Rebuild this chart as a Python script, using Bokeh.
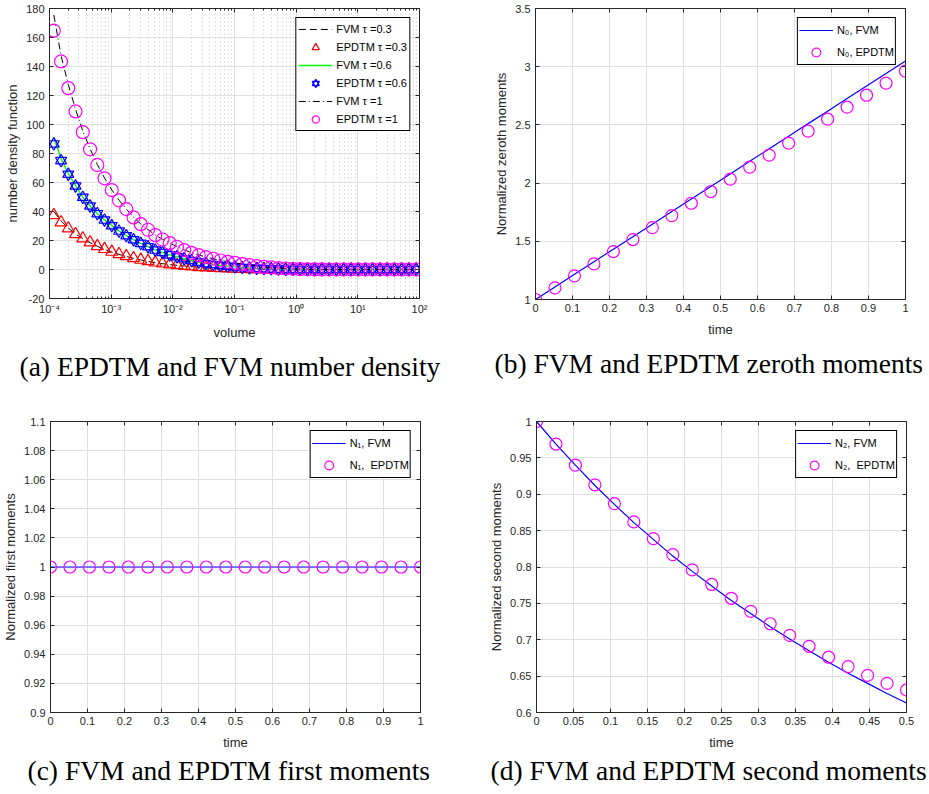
from bokeh.plotting import figure
from bokeh.models import (FixedTicker, CustomJSTickFormatter, Legend, LegendItem,
                          LinearAxis, Title, Range1d)
from bokeh.layouts import column, row
from bokeh.embed import file_html
from bokeh.resources import INLINE

# ---------------- data ----------------
volume = [1.175e-4, 1.540e-4, 2.018e-4, 2.645e-4, 3.467e-4, 4.544e-4, 5.957e-4, 7.80e-4, 1.023e-3, 1.341e-3,
          1.758e-3, 2.304e-3, 3.020e-3, 3.958e-3, 5.188e-3, 6.80e-3, 8.913e-3, 1.168e-2, 1.531e-2, 2.007e-2,
          2.630e-2, 3.447e-2, 4.519e-2, 5.92e-2, 7.76e-2, 0.1017, 0.1334, 0.1748, 0.2291, 0.3003,
          0.3936, 0.5158, 0.6761, 0.886, 1.161, 1.522, 1.995, 2.615, 3.428, 4.49,
          5.888, 7.72, 10.12, 13.26, 17.38, 22.78, 29.85, 39.13, 51.29, 67.23, 88.1]

fvm_t03 = [40.0, 33.5, 28.6, 24.5, 21.3, 18.5, 16.0, 13.9, 12.0, 10.4,
           9.0, 7.7, 6.6, 5.6, 4.7, 4.0, 3.4, 2.9, 2.4, 2.0,
           1.6, 1.3, 1.1, 0.9, 0.7, 0.5, 0.35, 0.25, 0.15, 0.1,
           0.05, 0.03, 0.01, 0, 0, 0, 0, 0, 0, 0,
           0, 0, 0, 0, 0, 0, 0, 0, 0, 0, 0]
epdtm_t03 = [37.5, 32.5, 28.3, 24.4, 21.4, 18.7, 16.1, 14.1, 12.2, 10.6,
             9.2, 7.8, 6.7, 5.8, 4.8, 4.1, 3.5, 3.0, 2.5, 2.1,
             1.6, 1.4, 1.15, 0.9, 0.7, 0.5, 0.35, 0.25, 0.15, 0.1,
             0.05, 0.03, 0.01, 0, 0, 0, 0, 0, 0, 0,
             0, 0, 0, 0, 0, 0, 0, 0, 0, 0, 0]
fvm_t06 = [91.0, 76.5, 66.2, 57.8, 49.9, 43.9, 38.6, 34.2, 30.3, 26.6,
           23.4, 20.6, 18.0, 15.7, 13.5, 11.7, 10.1, 8.8, 7.4, 6.2,
           5.1, 4.2, 3.5, 2.8, 2.3, 1.8, 1.4, 1.1, 0.8, 0.6,
           0.4, 0.25, 0.15, 0.08, 0.04, 0.02, 0.01, 0, 0, 0,
           0, 0, 0, 0, 0, 0, 0, 0, 0, 0, 0]
epdtm_t06 = [86.6, 75.1, 65.7, 57.6, 49.8, 43.8, 38.5, 34.1, 30.2, 26.5,
             23.3, 20.5, 18.0, 15.7, 13.4, 11.7, 10.1, 8.8, 7.4, 6.2,
             5.1, 4.1, 3.5, 2.8, 2.3, 1.8, 1.4, 1.1, 0.8, 0.6,
             0.4, 0.25, 0.15, 0.08, 0.04, 0.02, 0.01, 0, 0, 0,
             0, 0, 0, 0, 0, 0, 0, 0, 0, 0, 0]
fvm_t1 = [175.5, 147.5, 127.5, 110.5, 95.5, 83.3, 72.4, 63.1, 54.9, 47.8,
          41.8, 36.0, 31.4, 27.5, 23.8, 20.8, 18.3, 15.8, 13.5, 11.6,
          10.0, 8.6, 7.4, 6.3, 5.4, 4.6, 3.8, 3.0, 2.4, 1.8,
          1.4, 1.0, 0.7, 0.45, 0.28, 0.15, 0.07, 0.03, 0.01, 0,
          0, 0, 0, 0, 0, 0, 0, 0, 0, 0, 0]
epdtm_t1 = [164.7, 143.5, 125.1, 109.0, 94.7, 82.9, 72.1, 62.9, 54.8, 47.7,
            41.7, 35.9, 31.3, 27.4, 23.7, 20.7, 18.2, 15.7, 13.4, 11.5,
            9.9, 8.5, 7.4, 6.2, 5.3, 4.6, 3.7, 3.0, 2.3, 1.8,
            1.4, 0.9, 0.7, 0.45, 0.27, 0.14, 0.06, 0.03, 0.01, 0,
            0, 0, 0, 0, 0, 0, 0, 0, 0, 0, 0]

time_1 = [0.0, 0.0526, 0.1053, 0.1579, 0.2105, 0.2632, 0.3158, 0.3684, 0.4211, 0.4737,
          0.5263, 0.5789, 0.6316, 0.6842, 0.7368, 0.7895, 0.8421, 0.8947, 0.9474, 1.0]
n0_fvm = [1.0, 1.108, 1.216, 1.324, 1.432, 1.539, 1.647, 1.755, 1.863, 1.971,
          2.079, 2.187, 2.295, 2.403, 2.511, 2.618, 2.726, 2.834, 2.942, 3.05]
n0_epdtm = [1.0, 1.1, 1.203, 1.306, 1.412, 1.515, 1.618, 1.721, 1.827, 1.928,
            2.034, 2.137, 2.240, 2.343, 2.446, 2.549, 2.652, 2.755, 2.859, 2.962]
n1_fvm = [1.0, 1.0, 1.0, 1.0, 1.0, 1.0, 1.0, 1.0, 1.0, 1.0,
          1.0, 1.0, 1.0, 1.0, 1.0, 1.0, 1.0, 1.0, 1.0, 1.0]
n1_epdtm = [1.0, 1.0, 1.0, 1.0, 1.0, 1.0, 1.0, 1.0, 1.0, 1.0,
            1.0, 1.0, 1.0, 1.0, 1.0, 1.0, 1.0, 1.0, 1.0, 1.0]
time_2 = [0.0, 0.0263, 0.0526, 0.0789, 0.1053, 0.1316, 0.1579, 0.1842, 0.2105, 0.2368,
          0.2632, 0.2895, 0.3158, 0.3421, 0.3684, 0.3947, 0.4211, 0.4474, 0.4737, 0.5]
n2_fvm = [1.0, 0.969, 0.940, 0.912, 0.886, 0.861, 0.838, 0.815, 0.794, 0.774,
          0.754, 0.736, 0.718, 0.701, 0.685, 0.669, 0.654, 0.640, 0.626, 0.613]
n2_epdtm = [1.0, 0.969, 0.940, 0.913, 0.887, 0.862, 0.839, 0.817, 0.796, 0.776,
            0.757, 0.739, 0.722, 0.706, 0.691, 0.676, 0.663, 0.651, 0.640, 0.631]

# ticks
vol_ticks = [1e-4, 1e-3, 1e-2, 1e-1, 1e0, 1e1, 1e2]
nd_ticks = [-20, 0, 20, 40, 60, 80, 100, 120, 140, 160, 180]
t1_ticks = [0, 0.1, 0.2, 0.3, 0.4, 0.5, 0.6, 0.7, 0.8, 0.9, 1.0]
n0_ticks = [1, 1.5, 2, 2.5, 3, 3.5]
n1_ticks = [0.9, 0.92, 0.94, 0.96, 0.98, 1.0, 1.02, 1.04, 1.06, 1.08, 1.1]
t2_ticks = [0, 0.05, 0.1, 0.15, 0.2, 0.25, 0.3, 0.35, 0.4, 0.45, 0.5]
n2_ticks = [0.6, 0.65, 0.7, 0.75, 0.8, 0.85, 0.9, 0.95, 1.0]

captions = ["(a) EPDTM and FVM number density", "(b) FVM and EPDTM zeroth moments",
            "(c) FVM and EPDTM first moments", "(d) FVM and EPDTM second moments"]

# ---------------- styling ----------------
FONT = "Liberation Sans"
CAPFONT = "Liberation Serif"
AXC = "#262626"
GRIDC = "#e0e0e0"

num_fmt = CustomJSTickFormatter(code="return String(Number(tick.toFixed(6)));")
log_fmt = CustomJSTickFormatter(code="""
const e = Math.round(Math.log10(tick));
const sup = {'-':'\u207b','0':'\u2070','1':'\u00b9','2':'\u00b2','3':'\u00b3','4':'\u2074',
             '5':'\u2075','6':'\u2076','7':'\u2077','8':'\u2078','9':'\u2079'};
return '10' + String(e).split('').map(c => sup[c]).join('');
""")
blank_fmt = CustomJSTickFormatter(code="return '';")


def make_fig(xr, yr, xlog, bl, br, bt, bb, fh):
    p = figure(x_axis_type="log" if xlog else "linear",
               x_range=Range1d(*xr), y_range=Range1d(*yr),
               frame_width=370, frame_height=fh,
               min_border_left=bl, min_border_right=br, min_border_top=bt, min_border_bottom=bb,
               output_backend="svg", toolbar_location=None)
    p.outline_line_color = AXC
    p.outline_line_width = 1
    p.background_fill_color = "white"
    p.border_fill_color = "white"
    return p


def style(p, xt, yt, xf, xlabel, ylabel, caption, cap_standoff, cap_offset, xminor=None):
    xa = p.xaxis[0]
    ya = p.yaxis[0]
    xa.ticker = FixedTicker(ticks=xt, minor_ticks=xminor or [])
    ya.ticker = FixedTicker(ticks=yt)
    xa.formatter = xf
    ya.formatter = num_fmt
    xa.axis_label = xlabel
    ya.axis_label = ylabel
    for ax in (xa, ya):
        ax.axis_line_color = AXC
        ax.major_tick_line_color = AXC
        ax.minor_tick_line_color = AXC
        ax.major_tick_in = 4
        ax.major_tick_out = 0
        ax.minor_tick_in = 2
        ax.minor_tick_out = 0
        ax.major_label_text_font = FONT
        ax.major_label_text_font_size = "11px"
        ax.major_label_text_color = AXC
        ax.axis_label_text_font = FONT
        ax.axis_label_text_font_size = "13px"
        ax.axis_label_text_font_style = "normal"
        ax.axis_label_text_color = AXC
    xa.major_label_standoff = 4
    xa.axis_label_standoff = 7
    ya.major_label_standoff = 5
    ya.axis_label_standoff = 3
    # mirrored ticks on top and right
    top = LinearAxis(ticker=xa.ticker, formatter=blank_fmt, major_label_text_font_size="0px",
                     major_label_standoff=0, major_tick_in=4, major_tick_out=0,
                     minor_tick_in=2, minor_tick_out=0, axis_line_color=None,
                     major_tick_line_color=AXC, minor_tick_line_color=AXC)
    right = LinearAxis(ticker=ya.ticker, formatter=blank_fmt, major_label_text_font_size="0px",
                       major_label_standoff=0, major_tick_in=4, major_tick_out=0,
                       minor_tick_in=0, minor_tick_out=0, axis_line_color=None,
                       major_tick_line_color=AXC)
    p.add_layout(top, "above")
    p.add_layout(right, "right")
    p.xgrid.grid_line_color = GRIDC
    p.ygrid.grid_line_color = GRIDC
    p.xgrid.grid_line_width = 1
    p.ygrid.grid_line_width = 1
    if xminor:
        p.xgrid.minor_grid_line_color = "#c4c4c4"
        p.xgrid.minor_grid_line_dash = "1 3"
        p.xgrid.minor_grid_line_width = 1
    p.add_layout(Title(text=caption, align="left", text_font=CAPFONT, text_font_size="27.5px",
                       text_font_style="normal", text_color="black",
                       standoff=cap_standoff, offset=cap_offset), "below")


def legend(p, items, gh, sp, pad):
    lg = Legend(items=items, location="top_right", margin=9,
                border_line_color="black", border_line_width=1, border_line_alpha=1,
                background_fill_color="white", background_fill_alpha=1,
                label_text_font=FONT, label_text_font_size="11px", label_text_color="black",
                glyph_width=34, glyph_height=gh, label_height=11, spacing=sp, padding=pad,
                label_standoff=4)
    p.add_layout(lg)


# ---------------- (a) ----------------
minor_vol = [m * 10.0 ** e for e in range(-4, 2) for m in range(2, 10)]
pa = make_fig((1e-4, 1e2), (-20, 180), True, 49, 46, 8, 102, 290)
r1 = pa.line(volume, fvm_t03, line_color="black", line_width=1, line_dash="7 4")
r2 = pa.scatter(volume, epdtm_t03, marker="triangle", size=12, fill_color=None,
                line_color="#ff0000", line_width=1.2)
r3 = pa.line(volume, fvm_t06, line_color="#00ff00", line_width=1.4)
r4a = pa.scatter(volume, epdtm_t06, marker="triangle", size=11, fill_color=None,
                 line_color="#0000ff", line_width=1.2)
r4b = pa.scatter(volume, epdtm_t06, marker="inverted_triangle", size=11, fill_color=None,
                 line_color="#0000ff", line_width=1.2)
r5 = pa.line(volume, fvm_t1, line_color="black", line_width=1, line_dash="7 3 1 3")
r6 = pa.scatter(volume, epdtm_t1, marker="circle", size=13, fill_color=None,
                line_color="#ff00ff", line_width=1.2)
style(pa, vol_ticks, nd_ticks, log_fmt, "volume", "number density function",
      captions[0], 12, -30, xminor=minor_vol)
legend(pa, [LegendItem(label="FVM \u03c4 =0.3", renderers=[r1]),
            LegendItem(label="EPDTM \u03c4 =0.3", renderers=[r2]),
            LegendItem(label="FVM \u03c4 =0.6", renderers=[r3]),
            LegendItem(label="EPDTM \u03c4 =0.6", renderers=[r4a, r4b]),
            LegendItem(label="FVM \u03c4 =1", renderers=[r5]),
            LegendItem(label="EPDTM \u03c4 =1", renderers=[r6])], 18, -4, 2)

# ---------------- (b) ----------------
pb = make_fig((0, 1), (1, 3.5), False, 70, 24, 8, 101, 291)
b1 = pb.line(time_1, n0_fvm, line_color="#0000ff", line_width=1.2)
b2 = pb.scatter(time_1, n0_epdtm, marker="circle", size=12, fill_color=None,
                line_color="#ff00ff", line_width=1.2)
style(pb, t1_ticks, n0_ticks, num_fmt, "time", "Normalized zeroth moments",
      captions[1], 12, -41)
legend(pb, [LegendItem(label="N\u2080, FVM", renderers=[b1]),
            LegendItem(label="N\u2080, EPDTM", renderers=[b2])], 22, -2, 1)

# ---------------- (c) ----------------
pc = make_fig((0, 1), (0.9, 1.1), False, 49, 46, 21, 82, 291)
c1 = pc.line(time_1, n1_fvm, line_color="#0000ff", line_width=1.2)
c2 = pc.scatter(time_1, n1_epdtm, marker="circle", size=12, fill_color=None,
                line_color="#ff00ff", line_width=1.2)
style(pc, t1_ticks, n1_ticks, num_fmt, "time", "Normalized first moments",
      captions[2], 1, -23)
legend(pc, [LegendItem(label="N\u2081, FVM", renderers=[c1]),
            LegendItem(label="N\u2081,  EPDTM", renderers=[c2])], 22, -2, 1)

# ---------------- (d) ----------------
pd_ = make_fig((0, 0.5), (0.6, 1.0), False, 70, 24, 21, 82, 291)
d1 = pd_.line(time_2, n2_fvm, line_color="#0000ff", line_width=1.2)
d2 = pd_.scatter(time_2, n2_epdtm, marker="circle", size=12, fill_color=None,
                 line_color="#ff00ff", line_width=1.2)
style(pd_, t2_ticks, n2_ticks, num_fmt, "time", "Normalized second moments",
      captions[3], 1, -46)
legend(pd_, [LegendItem(label="N\u2082, FVM", renderers=[d1]),
             LegendItem(label="N\u2082,  EPDTM", renderers=[d2])], 22, -2, 1)

layout = column(row(pa, pb), row(pc, pd_))

open("out.html", "w").write(file_html(layout, INLINE))
